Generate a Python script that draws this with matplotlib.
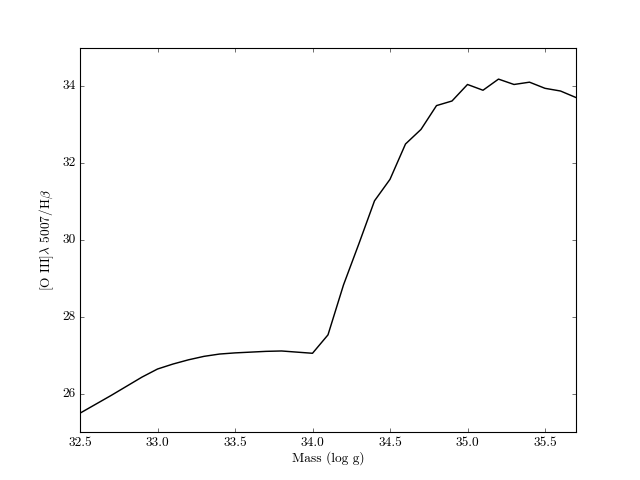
import matplotlib
matplotlib.use('Agg')
import matplotlib.pyplot as plt

plt.style.use('classic')
plt.rcParams['font.family'] = 'serif'
plt.rcParams['font.serif'] = ['cmr10']
plt.rcParams['mathtext.fontset'] = 'cm'
plt.rcParams['axes.formatter.use_mathtext'] = True
plt.rcParams['axes.unicode_minus'] = False

# log mass (g) and line ratio
mass = [32.5, 32.6, 32.7, 32.8, 32.9, 33.0, 33.1, 33.2, 33.3, 33.4, 33.5,
        33.6, 33.7, 33.8, 33.9, 34.0, 34.1, 34.2, 34.3, 34.4, 34.5, 34.6,
        34.7, 34.8, 34.9, 35.0, 35.1, 35.2, 35.3, 35.4, 35.5, 35.6, 35.7]
ratio = [25.49, 25.72, 25.95, 26.19, 26.43, 26.64, 26.77, 26.88, 26.97, 27.03, 27.06,
         27.08, 27.10, 27.11, 27.08, 27.05, 27.53, 28.83, 29.91, 31.02, 31.58, 32.50,
         32.88, 33.50, 33.62, 34.05, 33.90, 34.19, 34.05, 34.11, 33.95, 33.88, 33.71]

fig = plt.figure(figsize=(8, 6), dpi=80)
ax = fig.add_subplot(111)
ax.plot(mass, ratio, '-', color='k', lw=1.3)

ax.set_xlim(32.5, 35.7)
ax.set_ylim(25, 35)
ax.set_xticks([32.5, 33.0, 33.5, 34.0, 34.5, 35.0, 35.5])
ax.set_yticks([26, 28, 30, 32, 34])
ax.set_xticklabels(['32.5', '33.0', '33.5', '34.0', '34.5', '35.0', '35.5'])
ax.set_yticklabels(['26', '28', '30', '32', '34'])

ax.set_xlabel('Mass (log g)', labelpad=2)
ax.set_ylabel(r'[O III]$\lambda$ 5007/H$\beta$', labelpad=6)

plt.savefig('out.png', dpi=80)
